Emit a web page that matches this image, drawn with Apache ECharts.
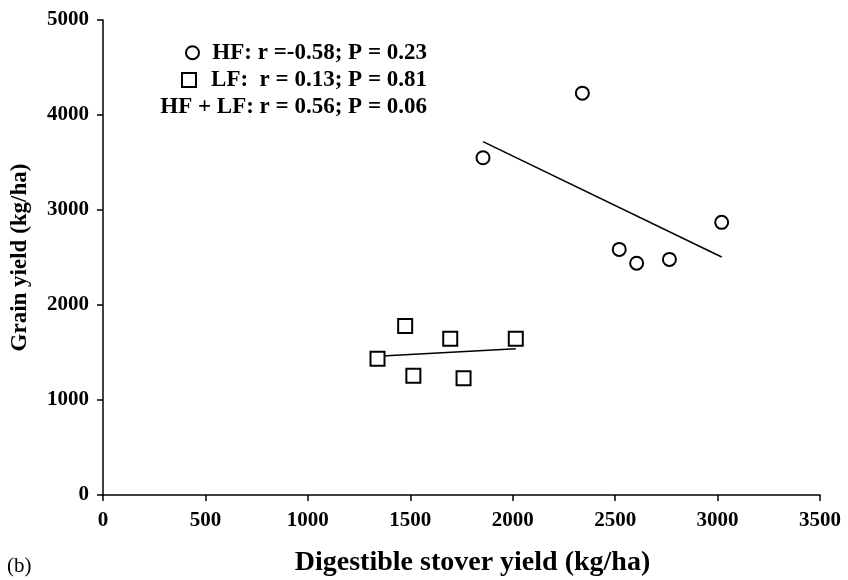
<!DOCTYPE html>
<html>
<head>
<meta charset="utf-8">
<script src="https://cdn.jsdelivr.net/npm/echarts@6/dist/echarts.min.js"></script>
<style>
html,body{margin:0;padding:0;background:#fff;}
#chart{width:848px;height:580px;}
</style>
</head>
<body>
<div id="chart"></div>
<script>
// HF group (circles)
var hfX = [1855, 2340, 2520, 2605, 2765, 3020];
var hfY = [3550, 4230, 2585, 2440, 2480, 2870];
// LF group (squares)
var lfX = [1475, 1695, 2015, 1340, 1515, 1760];
var lfY = [1780, 1645, 1645, 1435, 1255, 1230];
// Trend line endpoints
var hfTrendX = [1855, 3020];
var hfTrendY = [3720, 2505];
var lfTrendX = [1340, 2015];
var lfTrendY = [1460, 1540];
// Legend texts
var legendTexts = ['HF: r =-0.58; P = 0.23', 'LF:  r = 0.13; P = 0.81', 'HF + LF: r = 0.56; P = 0.06'];
var xTitle = 'Digestible stover yield (kg/ha)';
var yTitle = 'Grain yield (kg/ha)';
var panelLabel = '(b)';

function pairs(xs, ys){ return xs.map(function(x,i){ return [x, ys[i]]; }); }

var FONT = '"Liberation Serif","Times New Roman",serif';
var chart = echarts.init(document.getElementById('chart'), null, {renderer:'canvas'});
var axisCommon = {
  axisLine:{show:true, onZero:false, lineStyle:{color:'#000', width:1.5}},
  axisTick:{show:true, inside:false, length:6, lineStyle:{color:'#000', width:1.5}},
  splitLine:{show:false}
};
var labelStyle = {color:'#000', fontFamily:FONT, fontWeight:'bold', fontSize:21, formatter:function(v){ return String(v); }};
chart.setOption({
  animation:false,
  backgroundColor:'#fff',
  grid:{left:103, right:28, top:20, bottom:85, containLabel:false, outerBoundsMode:'none'},
  xAxis: Object.assign({}, axisCommon, {
    type:'value', min:0, max:3500, interval:500,
    name:xTitle, nameLocation:'middle', nameGap:54,
    nameTextStyle:{color:'#000', fontFamily:FONT, fontWeight:'bold', fontSize:28, padding:[0,0,0,22]},
    axisLabel:Object.assign({}, labelStyle, {margin:15})
  }),
  yAxis: Object.assign({}, axisCommon, {
    type:'value', min:0, max:5000, interval:1000,
    name:yTitle, nameLocation:'middle', nameGap:71,
    nameTextStyle:{color:'#000', fontFamily:FONT, fontWeight:'bold', fontSize:23},
    axisLabel:Object.assign({}, labelStyle, {margin:14})
  }),
  graphic:[
    {type:'text', left:7, top:556, style:{text:panelLabel, fill:'#000', font:'normal 21px ' + FONT}},
    {type:'circle', shape:{cx:192.5, cy:52.7, r:6.5}, style:{fill:'#fff', stroke:'#000', lineWidth:2}},
    {type:'rect', shape:{x:182, y:73, width:14, height:14}, style:{fill:'#fff', stroke:'#000', lineWidth:2}},
    {type:'text', x:427, y:52.7, style:{text:legendTexts[0], fill:'#000', font:'bold 23px ' + FONT, textAlign:'right', textVerticalAlign:'middle'}},
    {type:'text', x:427, y:80, style:{text:legendTexts[1], fill:'#000', font:'bold 23px ' + FONT, textAlign:'right', textVerticalAlign:'middle'}},
    {type:'text', x:427, y:106.7, style:{text:legendTexts[2], fill:'#000', font:'bold 23px ' + FONT, textAlign:'right', textVerticalAlign:'middle'}}
  ],
  series:[
    {type:'line', data:pairs(hfTrendX, hfTrendY), showSymbol:false, symbol:'none', lineStyle:{color:'#000', width:1.5}, z:2},
    {type:'line', data:pairs(lfTrendX, lfTrendY), showSymbol:false, symbol:'none', lineStyle:{color:'#000', width:1.5}, z:2},
    {type:'scatter', data:pairs(hfX, hfY), symbol:'circle', symbolSize:13, itemStyle:{color:'#fff', borderColor:'#000', borderWidth:2, opacity:1}, z:3},
    {type:'scatter', data:pairs(lfX, lfY), symbol:'rect', symbolSize:14, itemStyle:{color:'#fff', borderColor:'#000', borderWidth:2, opacity:1}, z:3}
  ]
});
</script>
</body>
</html>
